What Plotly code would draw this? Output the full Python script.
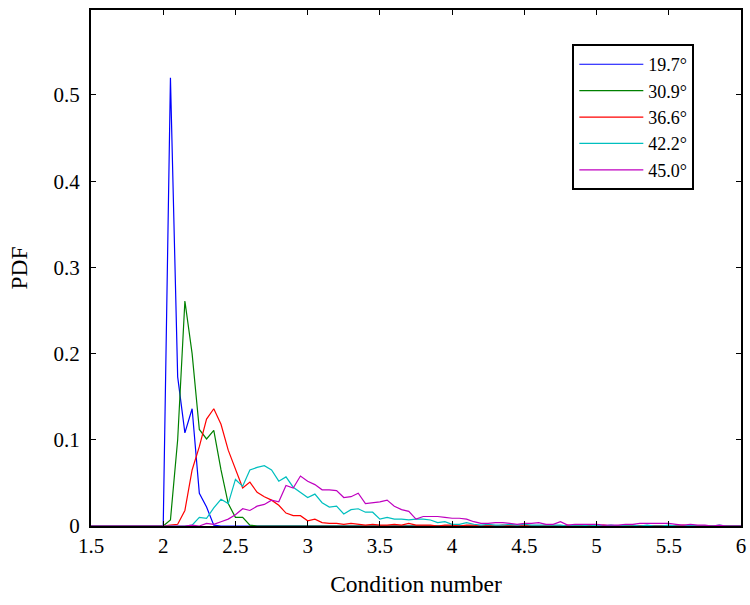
import plotly.graph_objects as go

# bin centres (condition number)
x = [round(1.5 + 0.05 * i, 2) for i in range(91)]

lead = [0.0] * 10  # 1.50 .. 1.95

pdf_197 = [0, 0.52, 0.173, 0.108, 0.136, 0.038, 0.022, 0.001] + [0.0] * 73
pdf_309 = [0, 0.007, 0.10, 0.261, 0.20, 0.112, 0.101, 0.111, 0.065, 0.026,
           0.010, 0.010, 0.001] + [0.0] * 68
pdf_366 = [0, 0.001, 0.002, 0.018, 0.065, 0.092, 0.124, 0.136, 0.118, 0.088,
           0.065, 0.044, 0.051, 0.039, 0.034, 0.030, 0.024, 0.015, 0.012, 0.012,
           0.006, 0.008, 0.004, 0.003, 0.003, 0.002, 0.003, 0.002, 0.001, 0.002,
           0.001, 0.001, 0.002, 0.001, 0.003, 0.001, 0.001, 0.001, 0.0, 0.001,
           0.001, 0.0, 0.001, 0.001, 0.0, 0.001, 0.0, 0.001, 0.0, 0.0,
           0.001, 0.0, 0.0, 0.001, 0.0, 0.0, 0.001, 0.0, 0.0, 0.0,
           0.0, 0.001, 0.0, 0.0, 0.0, 0.001, 0.0, 0.0, 0.0, 0.0,
           0.0, 0.0, 0.001, 0.0, 0.0, 0.0, 0.0, 0.0, 0.0, 0.0,
           0.0]
pdf_422 = [0, 0, 0, 0, 0.001, 0.010, 0.009, 0.021, 0.031, 0.026,
           0.054, 0.046, 0.065, 0.068, 0.070, 0.065, 0.052, 0.057, 0.045, 0.039,
           0.033, 0.037, 0.027, 0.022, 0.023, 0.014, 0.019, 0.020, 0.016, 0.016,
           0.008, 0.010, 0.008, 0.008, 0.007, 0.008, 0.008, 0.007, 0.004, 0.005,
           0.002, 0.002, 0.004, 0.002, 0.001, 0.002, 0.001, 0.001, 0.002, 0.001,
           0.002, 0.001, 0.001, 0.001, 0.001, 0.001, 0.0, 0.001, 0.001, 0.0,
           0.001, 0.0, 0.001, 0.0, 0.001, 0.001, 0.0, 0.001, 0.0, 0.0,
           0.001, 0.0, 0.0, 0.001, 0.0, 0.0, 0.0, 0.001, 0.0, 0.0,
           0.0]
pdf_450 = [0, 0, 0, 0, 0.001, 0.0, 0.003, 0.002, 0.005, 0.008,
           0.013, 0.020, 0.018, 0.023, 0.025, 0.030, 0.028, 0.047, 0.044, 0.058,
           0.052, 0.048, 0.042, 0.042, 0.041, 0.033, 0.034, 0.038, 0.026, 0.027,
           0.028, 0.030, 0.023, 0.019, 0.017, 0.008, 0.011, 0.011, 0.011, 0.010,
           0.009, 0.009, 0.008, 0.005, 0.003, 0.003, 0.004, 0.004, 0.003, 0.002,
           0.003, 0.003, 0.004, 0.002, 0.002, 0.005, 0.001, 0.002, 0.002, 0.002,
           0.002, 0.001, 0.001, 0.001, 0.002, 0.002, 0.003, 0.003, 0.003, 0.003,
           0.003, 0.002, 0.001, 0.002, 0.001, 0.001, 0.0, 0.001, 0.0, 0.0,
           0.0]

names = ["19.7°", "30.9°", "36.6°", "42.2°", "45.0°"]
series = [pdf_197, pdf_309, pdf_366, pdf_422, pdf_450]
colors = ["#0000ff", "#008000", "#ff0000", "#00bfbf", "#bf00bf"]

FONT = "Liberation Serif, Times New Roman, serif"

fig = go.Figure()
for n, s, c in zip(names, series, colors):
    fig.add_trace(go.Scatter(x=x, y=lead + s, mode="lines", name=n,
                             line=dict(color=c, width=1.2)))

axis_common = dict(showline=True, linecolor="black", linewidth=2, mirror="ticks",
                   ticks="inside", ticklen=5, tickwidth=1, tickcolor="black",
                   showgrid=False, zeroline=False,
                   tickfont=dict(family=FONT, size=21, color="black"))

fig.update_layout(
    width=750, height=605,
    margin=dict(l=91, r=4, t=10, b=79),
    paper_bgcolor="white", plot_bgcolor="white",
    font=dict(family=FONT, size=21, color="black"),
    xaxis=dict(range=[1.5, 6], dtick=0.5, tick0=1.5,
               title=dict(text="Condition number", font=dict(family=FONT, size=23.5), standoff=18),
               **axis_common),
    yaxis=dict(range=[0, 0.5986], tickvals=[0, 0.1, 0.2, 0.3, 0.4, 0.5],
               ticklabelstandoff=5,
               title=dict(text="PDF", font=dict(family=FONT, size=23.5), standoff=19),
               **axis_common),
    legend=dict(x=0.7405, y=0.934, xanchor="left", yanchor="top",
                bordercolor="black", borderwidth=2, bgcolor="white",
                font=dict(family=FONT, size=18), itemwidth=64,
                entrywidth=140, entrywidthmode="pixels",
                tracegroupgap=0),
    showlegend=True,
)

fig.write_html("out.html")
